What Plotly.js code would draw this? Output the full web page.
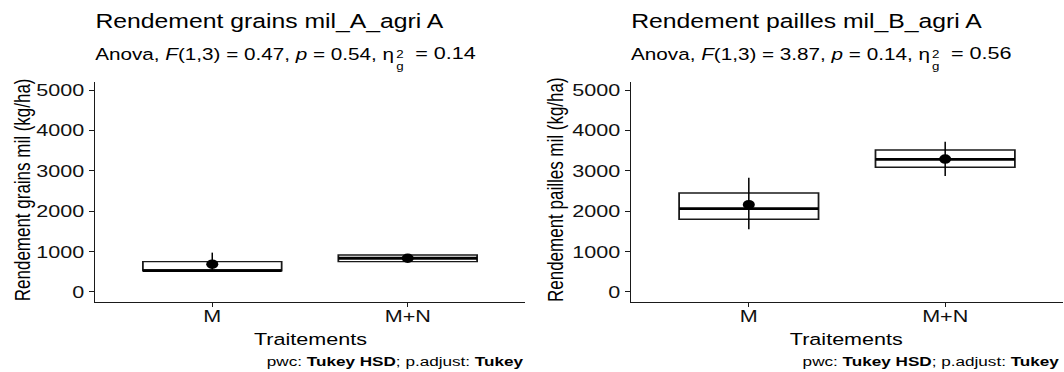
<!DOCTYPE html>
<html>
<head>
<meta charset="utf-8">
<script src="https://cdn.plot.ly/plotly-3.0.1.min.js"></script>
<style>
  html, body { margin: 0; padding: 0; background: #fff; overflow: hidden; }
  #wrap { width: 1064px; height: 372px; overflow: hidden; }
  /* the figure is laid out at 838px and widened to 1064px */
  #chart { width: 838px; height: 372px; transform: scaleX(1.26969); transform-origin: 0 0; }
</style>
</head>
<body>
<div id="wrap"><div id="chart"></div></div>
<script>
// Treatments
const categories = ['M', 'M+N'];
const catPos = [0, 1];

// Grain yield (kg/ha): box statistics, mean and error bar ends
const grainsQ1 = [520, 750];
const grainsMedian = [528, 834];
const grainsQ3 = [750, 916];
const grainsMean = [686, 834];
const grainsUpper = [973, 925];
const grainsLower = [540, 745];

// Straw yield (kg/ha)
const paillesQ1 = [1800, 3087];
const paillesMedian = [2062, 3285];
const paillesQ3 = [2450, 3515];
const paillesMean = [2160, 3292];
const paillesUpper = [2830, 3720];
const paillesLower = [1555, 2871];

const yTicks = [0, 1000, 2000, 3000, 4000, 5000];

const BOX_W = 0.71;
const INK = '#1a1a1a';

function panelTraces(q1, med, q3, mean, upper, lower, xa, ya) {
  const box = {
    type: 'box', x: catPos, q1: q1, median: med, q3: q3,
    lowerfence: q1, upperfence: q3,
    width: BOX_W, fillcolor: 'rgba(255,255,255,0)',
    line: { color: INK, width: 1.4 }, whiskerwidth: 0,
    boxpoints: false, hoverinfo: 'skip', showlegend: false,
    xaxis: xa, yaxis: ya
  };
  // thick median bars
  const mx = [], my = [];
  catPos.forEach((c, i) => {
    mx.push(c - BOX_W / 2, c + BOX_W / 2, null);
    my.push(med[i], med[i], null);
  });
  const medianLine = {
    type: 'scatter', mode: 'lines', x: mx, y: my,
    line: { color: '#000', width: 2.8 }, hoverinfo: 'skip', showlegend: false,
    xaxis: xa, yaxis: ya
  };
  const meanPoint = {
    type: 'scatter', mode: 'markers', x: catPos, y: mean,
    marker: { color: '#000', size: 9.5 },
    error_y: {
      type: 'data', symmetric: false,
      array: upper.map((u, i) => u - mean[i]),
      arrayminus: lower.map((l, i) => mean[i] - l),
      width: 0, thickness: 1.2, color: '#000'
    },
    hoverinfo: 'skip', showlegend: false, xaxis: xa, yaxis: ya
  };
  return [box, medianLine, meanPoint];
}

const data = [
  ...panelTraces(grainsQ1, grainsMedian, grainsQ3, grainsMean, grainsUpper, grainsLower, 'x', 'y'),
  ...panelTraces(paillesQ1, paillesMedian, paillesQ3, paillesMean, paillesUpper, paillesLower, 'x2', 'y2')
];

const FONT = 'Liberation Sans, Arial, Helvetica, sans-serif';
const W = 1064, H = 372;
const px = v => v / W;
const py = v => 1 - v / H;

function xAxis(domain, anchor) {
  return {
    domain: domain, anchor: anchor, range: [-0.6, 1.6],
    tickmode: 'array', tickvals: catPos, ticktext: categories,
    ticks: 'outside', ticklen: 4, tickwidth: 1, tickcolor: INK,
    ticklabelstandoff: -5,
    showline: true, linecolor: INK, linewidth: 1.1,
    showgrid: false, zeroline: false,
    tickfont: { family: FONT, size: 17, color: '#111' }
  };
}
function yAxis(anchor) {
  return {
    domain: [py(302), py(82)], anchor: anchor, range: [-250, 5200],
    tickmode: 'array', tickvals: yTicks, ticktext: yTicks.map(String),
    ticks: 'outside', ticklen: 4, tickwidth: 1, tickcolor: INK,
    showline: true, linecolor: INK, linewidth: 1.1,
    showgrid: false, zeroline: false,
    tickfont: { family: FONT, size: 17, color: '#111' }
  };
}

function txt(text, x, y, size, opts) {
  return Object.assign({
    text: text, xref: 'paper', yref: 'paper', x: x, y: y,
    xanchor: 'left', yanchor: 'middle', showarrow: false,
    font: { family: FONT, size: size, color: '#000' }
  }, opts || {});
}

const panels = [
  { left: 95, right: 525, ytitleX: 22,
    title: 'Rendement grains mil_A_agri A',
    stats: 'Anova, <i>F</i>(1,3) = 0.47, <i>p</i> = 0.54, η', eta: '= 0.14',
    ytitle: 'Rendement grains mil (kg/ha)' },
  { left: 631, right: 1061, ytitleX: 555,
    title: 'Rendement pailles mil_B_agri A',
    stats: 'Anova, <i>F</i>(1,3) = 3.87, <i>p</i> = 0.14, η', eta: '= 0.56',
    ytitle: 'Rendement pailles mil (kg/ha)' }
];

const annotations = [];
panels.forEach(p => {
  const L = p.left - 2;
  annotations.push(txt(p.title, px(L), py(22), 19.5));
  // Anova line, with the stacked ² / g on the eta
  annotations.push(txt(p.stats, px(L), py(54), 16.3));
  annotations.push(txt('2', px(L + 302), py(54), 10.5, { borderpad: 0 }));
  annotations.push(txt('g', px(L + 302), py(66), 10.5, { borderpad: 0 }));
  annotations.push(txt(p.eta, px(L + 320), py(54), 17));
  annotations.push(txt(p.ytitle, px(p.ytitleX), py(190), 17, { xanchor: 'center', textangle: -90 }));
  annotations.push(txt('Traitements', px((p.left + p.right) / 2), py(339), 17, { xanchor: 'center' }));
  annotations.push(txt('pwc: <b>Tukey HSD</b>; p.adjust: <b>Tukey</b>', px(p.right + 2), py(361), 13.5, { xanchor: 'right' }));
});

const layout = {
  width: 838, height: 372,
  margin: { l: 0, r: 0, t: 0, b: 0 },
  paper_bgcolor: '#fff', plot_bgcolor: '#fff',
  showlegend: false,
  xaxis: xAxis([px(95), px(525)], 'y'),
  yaxis: yAxis('x'),
  xaxis2: xAxis([px(631), px(1063)], 'y2'),
  yaxis2: yAxis('x2'),
  annotations: annotations
};

Plotly.newPlot('chart', data, layout, { staticPlot: true, displayModeBar: false });
</script>
</body>
</html>
